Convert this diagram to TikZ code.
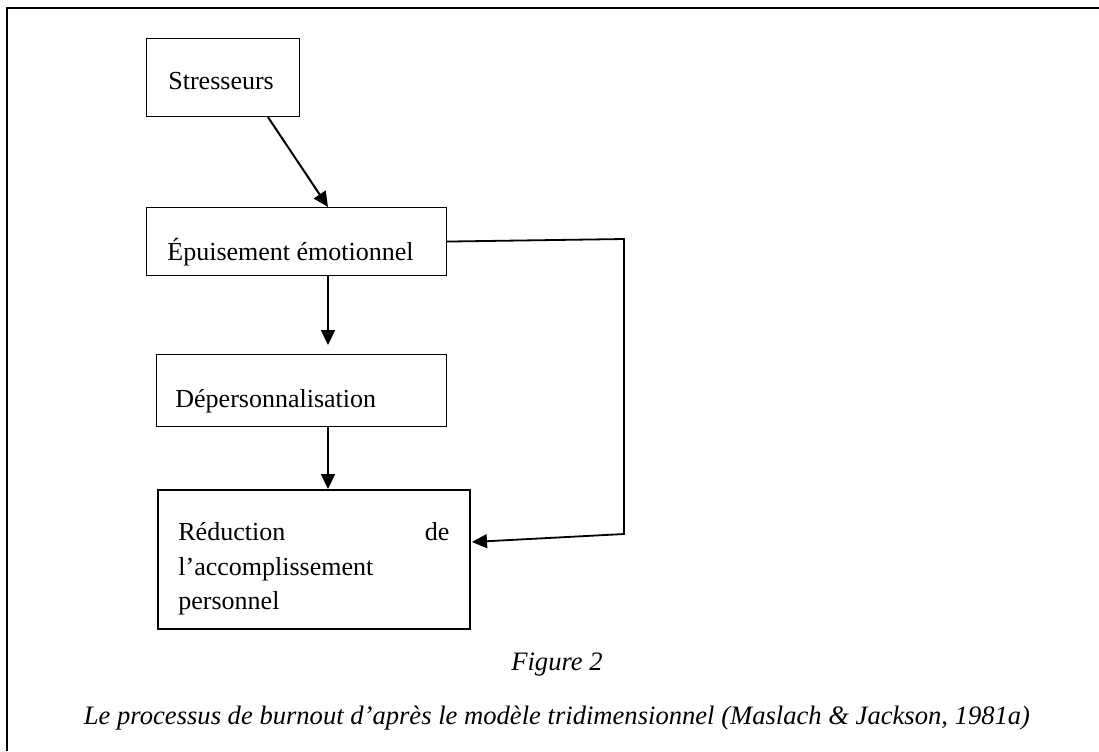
\documentclass[tikz,border=0pt]{standalone}
\usepackage{fontspec}
\setmainfont{Liberation Serif}
\usetikzlibrary{arrows.meta,calc}
\tikzset{
  box/.style={draw=black, line width=0.55pt, inner sep=0pt, anchor=north west},
  boxthick/.style={box, line width=1pt},
  txt/.style={anchor=base west, inner sep=0pt, font=\fontsize{13}{17.25}\selectfont},
  captxt/.style={anchor=base, inner sep=0pt, font=\fontsize{13.3}{17.5}\selectfont\itshape},
  arr/.style={line width=1pt, -{Triangle[length=7.5pt,width=7pt]}},
  frameline/.style={line width=1pt}
}
\begin{document}
\begin{tikzpicture}[x=0.5pt,y=-0.5pt]
\useasboundingbox (0,0) rectangle (1099,751);
% frame (top and left edges only)
\coordinate (fTR) at (1099,8);
\coordinate (fTL) at (7,8);
\coordinate (fBL) at (7,751);
\draw[frameline] (fTR) -- (fTL) -- (fBL);

% boxes
\node[box, minimum width=76.5pt, minimum height=39pt] (stress) at (146,38) {};
\node[box, minimum width=150pt, minimum height=34pt] (epuis) at (146,207) {};
\node[box, minimum width=145pt, minimum height=36pt] (deper) at (156,354) {};
\node[boxthick, minimum width=156pt, minimum height=69.5pt] (reduc) at (157,489) {};

% texts
\node[txt] (tStress) at (168,89) {Stresseurs};
\node[txt] (tEpuis) at (167,260) {Épuisement émotionnel};
\node[txt] (tDeper) at (175,407) {Dépersonnalisation};
\node[txt] (tRed1) at (178,540) {\makebox[135.5pt][s]{Réduction\hfill de}};
\node[txt] (tRed2) at (178,575) {l’accomplissement};
\node[txt] (tRed3) at (178,609) {personnel};

\node[captxt] (fig) at (557,670) {Figure 2};
\node[captxt] (caption) at (557,724) {Le processus de burnout d’après le modèle tridimensionnel (Maslach \& Jackson, 1981a)};

% connectors
\draw[arr] ($(stress.south west)+(122,0)$) -- ($(epuis.north west)+(182,0)$);
\draw[arr] ($(epuis.south west)+(182,0)$) -- ($(deper.north west)+(172,-9)$);
\draw[arr] ($(deper.south west)+(172,0)$) -- ($(reduc.north west)+(171,0)$);
\coordinate (fbTop) at (624,239);
\coordinate (fbBot) at (624,534);
\draw[line width=0.9pt, -{Triangle[length=7.5pt,width=7pt]}]
  (epuis.east) -- (fbTop) -- (fbBot) -- ($(reduc.north east)+(1,53)$);
\end{tikzpicture}
\end{document}
